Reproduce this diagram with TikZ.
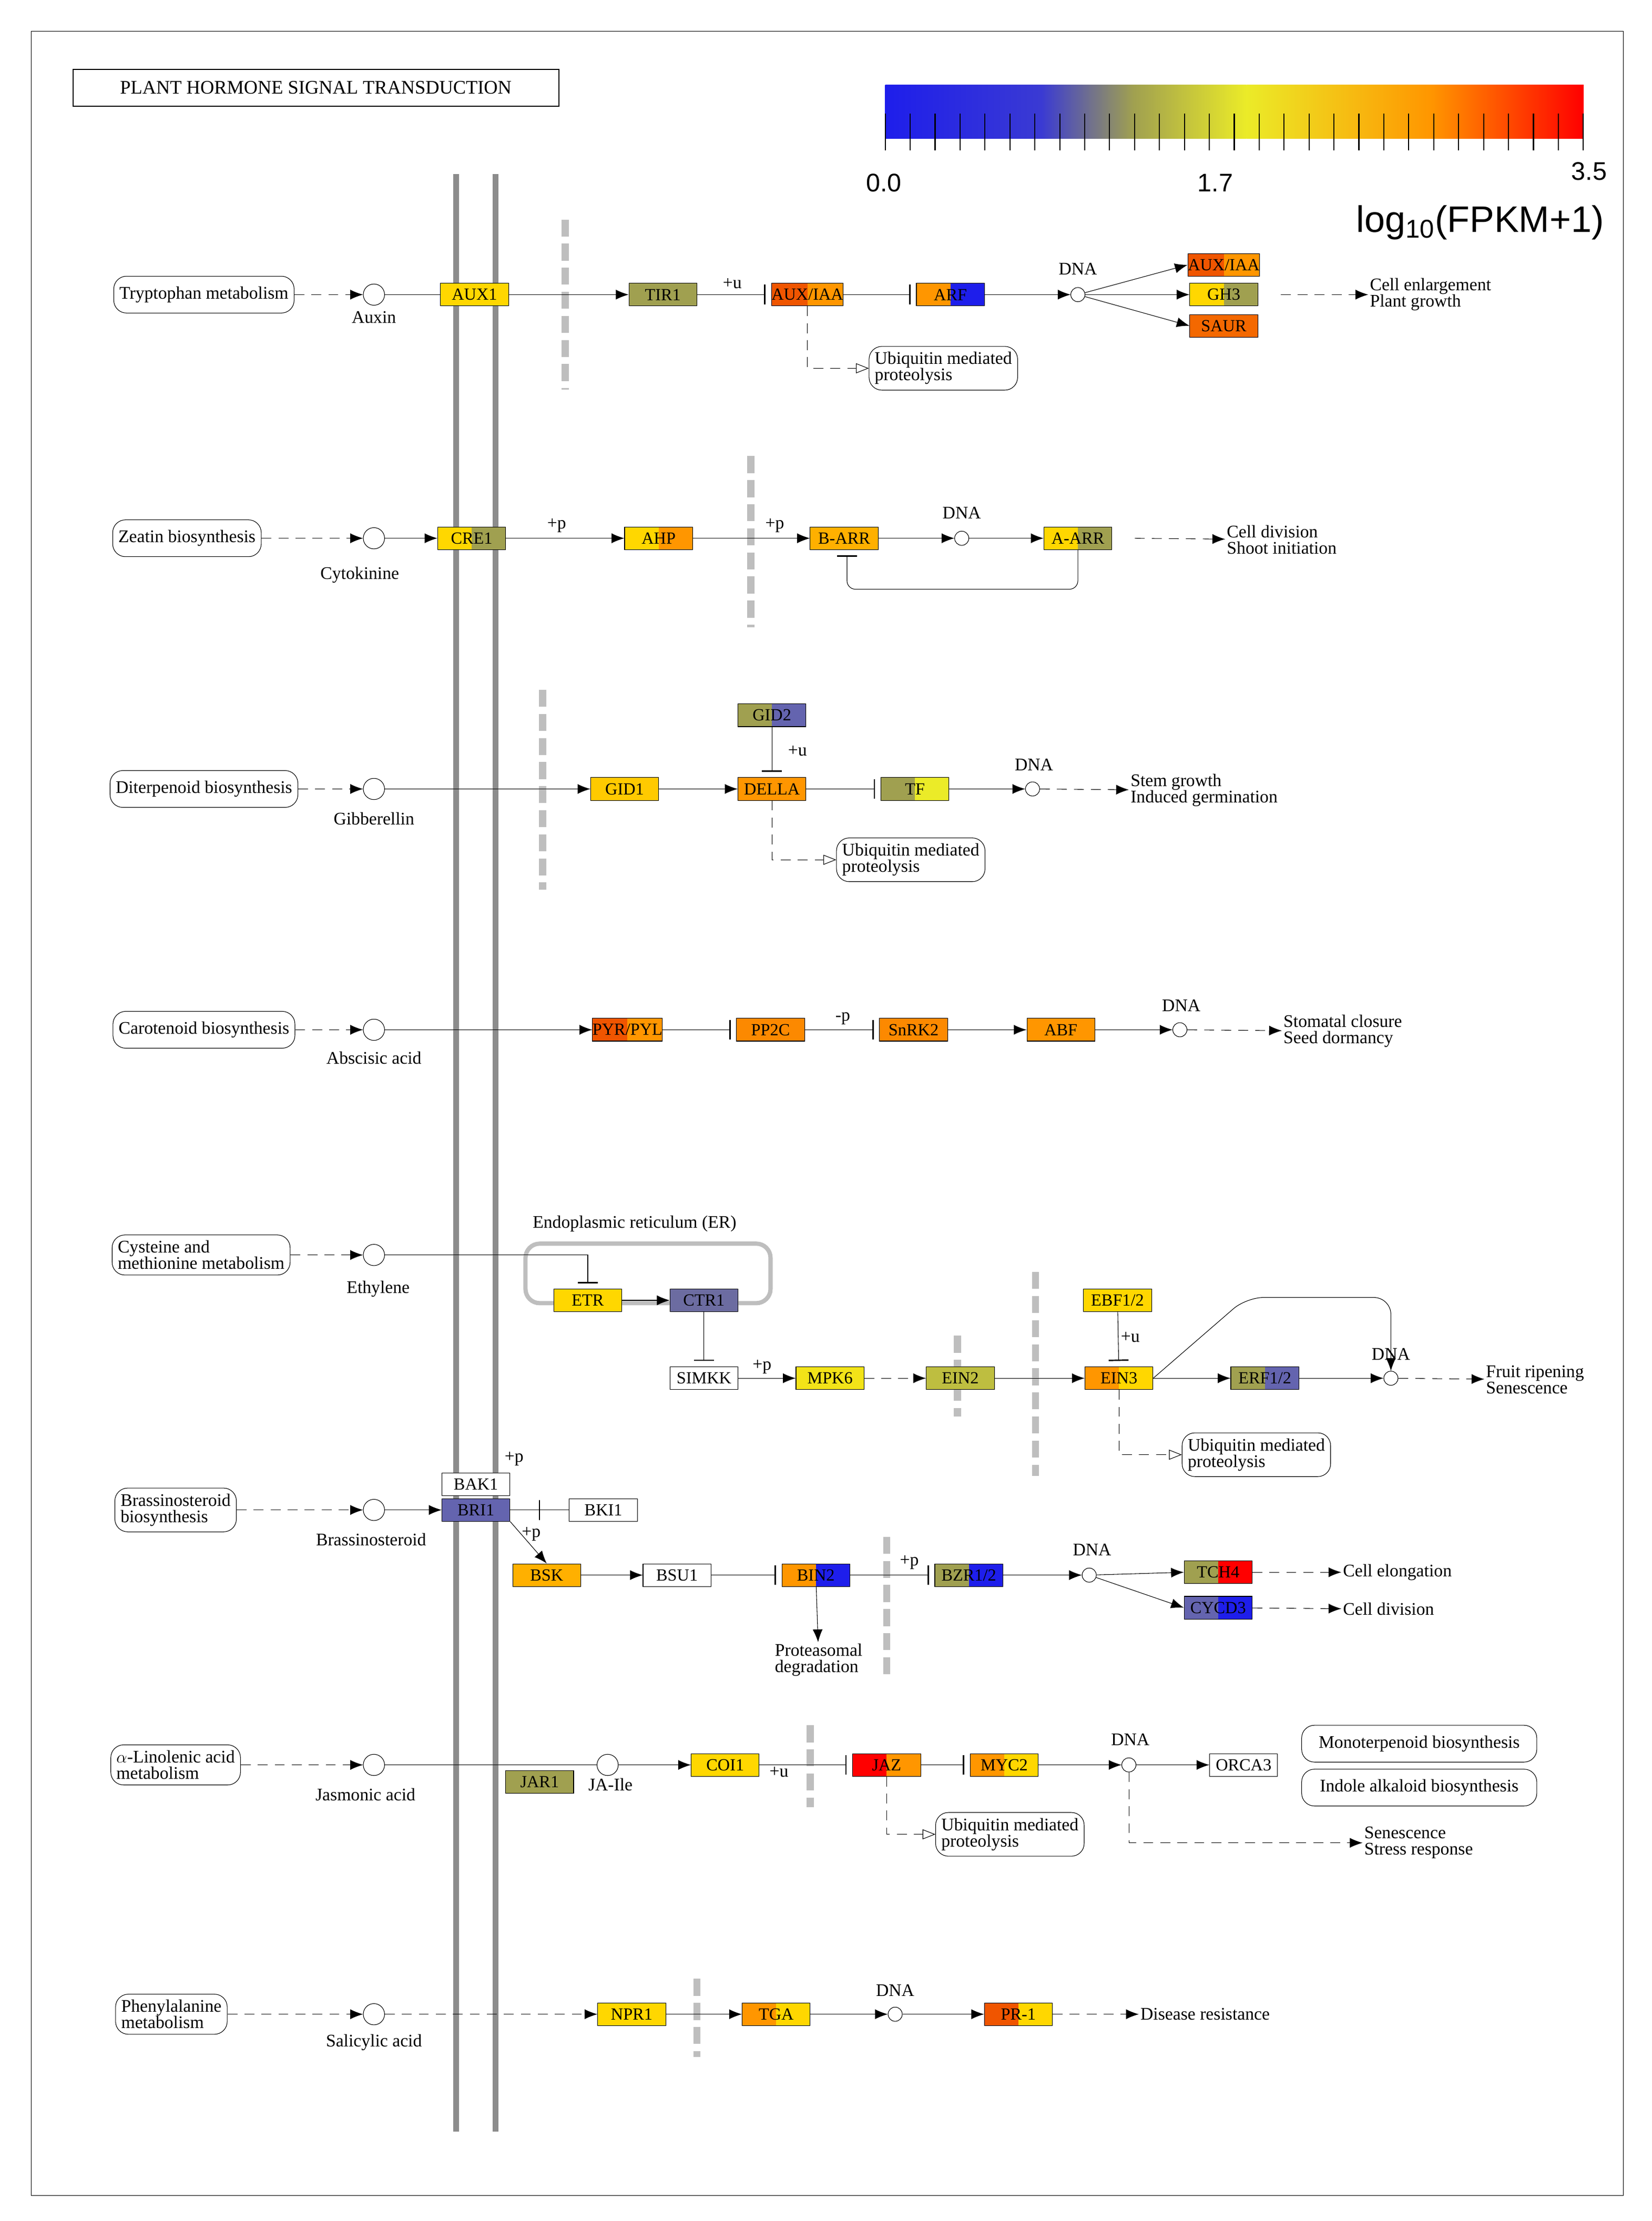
\documentclass[tikz,border=0pt]{standalone}
\usepackage{fontspec}
\setmainfont{Liberation Serif}
\newfontfamily\sans{Liberation Sans}
\usetikzlibrary{arrows.meta}
\definecolor{gy}{RGB}{255,215,0}
\definecolor{yl}{RGB}{235,235,40}
\definecolor{og}{RGB}{255,150,0}
\definecolor{ro}{RGB}{240,85,0}
\definecolor{ol}{RGB}{160,160,80}
\definecolor{bg}{RGB}{100,100,175}
\definecolor{bl}{RGB}{30,30,235}
\definecolor{mem}{RGB}{140,140,140}
\definecolor{gd}{RGB}{190,190,190}
\begin{document}
\begin{tikzpicture}[x=1pt,y=-1pt,
 g/.style={draw,rectangle,minimum width=48pt,minimum height=16pt,inner sep=0pt,font=\fontsize{12}{12}\selectfont},
 two/.style 2 args={path picture={\fill[#1] (path picture bounding box.south west) rectangle (path picture bounding box.north);\fill[#2] (path picture bounding box.south) rectangle (path picture bounding box.north east);}},
 pw/.style={draw,rounded corners=9pt,minimum height=26pt,inner sep=4pt,align=left,font=\fontsize{12.5}{11.5}\selectfont},
 c/.style={draw,circle,minimum size=15pt,inner sep=0pt},
 t/.style={font=\fontsize{12.5}{11.5}\selectfont,align=left,inner sep=1pt},
 a/.style={-{Latex[length=9pt,width=7pt]}},
 da/.style={dash pattern=on 7pt off 5pt,-{Latex[length=9pt,width=7pt]}},
 oa/.style={dash pattern=on 7pt off 5pt,-{Triangle[open,length=9pt,width=7pt]}},
 inh/.style={-{Bar[width=14pt,line width=1pt]},shorten >=4pt},
 gdash/.style={gd,line width=5pt,dash pattern=on 12pt off 5pt},
]
\useasboundingbox (0,0) rectangle (1166,1568);
\fill[white] (0,0) rectangle (1166,1568);
\draw (22,22) rectangle (1146,1550);
\node[draw,thick,minimum width=343pt,minimum height=26pt,font=\fontsize{13.5}{13}\selectfont] (title) at (223,62) {PLANT HORMONE SIGNAL TRANSDUCTION};
% color bar
\shade[left color=bl,right color=bl!60!bg] (625,60) rectangle (735,98);
\shade[left color=bl!60!bg,right color=ol] (735,60) rectangle (800,98);
\shade[left color=ol,right color=yl] (800,60) rectangle (880,98);
\shade[left color=yl,right color=og] (880,60) rectangle (1010,98);
\shade[left color=og,right color=red] (1010,60) rectangle (1118,98);
\foreach \i in {0,...,28}{\draw[thick] (625+\i*17.6,80) -- (625+\i*17.6,106);}
\node[font=\sans\fontsize{18}{18}\selectfont] (l0) at (624,129) {0.0};
\node[font=\sans\fontsize{18}{18}\selectfont] (l1) at (858,129) {1.7};
\node[font=\sans\fontsize{18}{18}\selectfont] (l2) at (1122,121) {3.5};
\node[font=\sans\fontsize{26}{26}\selectfont] (lg) at (1045,157) {log\textsubscript{10}(FPKM+1)};
% membrane
\draw[mem,line width=4pt] (322,123) -- (322,1505);
\draw[mem,line width=4pt] (350,123) -- (350,1505);
% gray dashes
\draw[gdash] (399,155) -- (399,275);
\draw[gdash] (530,322) -- (530,443);
\draw[gdash] (383,487) -- (383,628);
\draw[gdash] (676,943) -- (676,1000);
\draw[gdash] (731,898) -- (731,1042);
\draw[gdash] (626,1085) -- (626,1185);
\draw[gdash] (572,1218) -- (572,1276);
\draw[gdash] (492,1397) -- (492,1452);

% Row 1
\node[pw] (trp) at (144,208) {Tryptophan metabolism};
\node[c] (auxin) at (264,208) {};
\node[t] (auxinl) at (264,224) {Auxin};
\node[g,fill=gy] (aux1) at (335,208) {AUX1};
\node[g,fill=ol] (tir1) at (468,208) {TIR1};
\node[g,two={ro}{og}] (auxiaa) at (570,208) {AUX/IAA};
\node[g,two={og}{bl}] (arf) at (671,208) {ARF};
\node[c,minimum size=10pt] (dna1) at (761,208) {};
\node[t] (dna1l) at (761,190) {DNA};
\node[g,two={ro}{og}] (auxiaa2) at (864,187) {AUX/IAA};
\node[g,two={gy}{ol}] (gh3) at (864,208) {GH3};
\node[g,fill=ro!70!og] (saur) at (864,230) {SAUR};
\node[t,anchor=west] (ce) at (966,208) {Cell enlargement\\Plant growth};
\node[pw] (ub1) at (666,260) {Ubiquitin mediated\\proteolysis};
\node[t] (u1) at (517,200) {+u};
\draw[da] (trp) -- (auxin);
\draw (auxin) -- (aux1);
\draw[a] (aux1) -- (tir1);
\draw[inh] (tir1) -- (auxiaa);
\draw[inh] (auxiaa) -- (arf);
\draw[a] (arf) -- (dna1);
\draw[a] (dna1) -- (auxiaa2.west);
\draw[a] (dna1) -- (gh3);
\draw[a] (dna1) -- (saur.west);
\draw[da] (gh3.east)++(16,0) -- (ce);
\draw[oa] (auxiaa.south) |- (ub1.west);

% Row 2
\node[pw] (zea) at (132,380) {Zeatin biosynthesis};
\node[c] (cyt) at (264,380) {};
\node[t] (cytl) at (254,406) {Cytokinine};
\node[g,two={gy}{ol}] (cre1) at (333,380) {CRE1};
\node[g,two={gy}{og}] (ahp) at (465,380) {AHP};
\node[g,fill=og!60!gy] (barr) at (596,380) {B-ARR};
\node[c,minimum size=10pt] (dna2) at (679,380) {};
\node[t] (dna2l) at (679,362) {DNA};
\node[g,two={gy}{ol}] (aarr) at (761,380) {A-ARR};
\node[t,anchor=west] (cd) at (865,381) {Cell division\\Shoot initiation};
\node[t] (p1) at (393,371) {+p};
\node[t] (p2) at (547,371) {+p};
\draw[da] (zea) -- (cyt);
\draw[a] (cyt) -- (cre1);
\draw[a] (cre1) -- (ahp);
\draw[a] (ahp) -- (barr);
\draw[a] (barr) -- (dna2);
\draw[a] (dna2) -- (aarr);
\draw[rounded corners=6pt,-{Bar[width=14pt,line width=1pt]}] (aarr.south) |- (598,416) -- (598,392);
\draw[da] (aarr.east)++(16,0) -- (cd);

% Row 3
\node[pw] (dit) at (144,557) {Diterpenoid biosynthesis};
\node[c] (gib) at (264,557) {};
\node[t] (gibl) at (264,578) {Gibberellin};
\node[g,fill=gy!80!og] (gid1) at (441,557) {GID1};
\node[g,fill=og] (della) at (545,557) {DELLA};
\node[g,two={ol}{bg}] (gid2) at (545,505) {GID2};
\node[g,two={ol}{yl}] (tf) at (646,557) {TF};
\node[c,minimum size=10pt] (dna3) at (729,557) {};
\node[t] (dna3l) at (730,540) {DNA};
\node[t,anchor=west] (sg) at (797,558) {Stem growth\\Induced germination};
\node[pw] (ub3) at (643,607) {Ubiquitin mediated\\proteolysis};
\node[t] (u3) at (563,530) {+u};
\draw[da] (dit) -- (gib);
\draw[a] (gib) -- (gid1);
\draw[a] (gid1) -- (della);
\draw[inh] (gid2) -- (della);
\draw[inh] (della) -- (tf);
\draw[a] (tf) -- (dna3);
\draw[da] (dna3) -- (sg);
\draw[oa] (della.south) |- (ub3.west);

% Row 4
\node[pw] (car) at (144,727) {Carotenoid biosynthesis};
\node[c] (aba) at (264,727) {};
\node[t] (abal) at (264,747) {Abscisic acid};
\node[g,two={ro}{og}] (pyr) at (443,727) {PYR/PYL};
\node[g,fill=og!80!ro] (pp2c) at (544,727) {PP2C};
\node[g,fill=og!80!ro] (snrk) at (645,727) {SnRK2};
\node[g,fill=og] (abf) at (749,727) {ABF};
\node[c,minimum size=10pt] (dna4) at (833,727) {};
\node[t] (dna4l) at (834,710) {DNA};
\node[t,anchor=west] (sc) at (905,728) {Stomatal closure\\Seed dormancy};
\node[t] (mp) at (595,719) {-p};
\draw[da] (car) -- (aba);
\draw[a] (aba) -- (pyr);
\draw[inh] (pyr) -- (pp2c);
\draw[inh] (pp2c) -- (snrk);
\draw[a] (snrk) -- (abf);
\draw[a] (abf) -- (dna4);
\draw[da] (dna4) -- (sc);

% Row 5
\node[pw] (cys) at (142,886) {Cysteine and\\methionine metabolism};
\node[c] (eth) at (264,886) {};
\node[t] (ethl) at (267,910) {Ethylene};
\draw[gd,line width=3pt,rounded corners=10pt] (371,878) rectangle (544,920);
\node[t] (erl) at (448,864) {Endoplasmic reticulum (ER)};
\node[g,fill=gy] (etr) at (415,918) {ETR};
\node[g,fill=bg!70!gray] (ctr1) at (497,918) {CTR1};
\node[g,fill=white] (simkk) at (497,973) {SIMKK};
\node[g,fill=yl!60!gy] (mpk6) at (586,973) {MPK6};
\node[g,fill=ol!60!yl] (ein2) at (678,973) {EIN2};
\node[g,fill=gy] (ebf) at (789,918) {EBF1/2};
\node[g,two={og}{gy}] (ein3) at (790,973) {EIN3};
\node[g,two={ol}{bg}] (erf) at (893,973) {ERF1/2};
\node[c,minimum size=10pt] (dna5) at (982,973) {};
\node[t] (dna5l) at (982,956) {DNA};
\node[t,anchor=west] (fr) at (1048,974) {Fruit ripening\\Senescence};
\node[pw] (ub5) at (887,1027) {Ubiquitin mediated\\proteolysis};
\node[t] (p5) at (538,965) {+p};
\node[t] (u5) at (798,944) {+u};
\draw[da] (cys) -- (eth);
\draw[-{Bar[width=14pt,line width=1pt]}] (eth) -| (415,906);
\draw[a] (etr) -- (ctr1);
\draw[inh] (ctr1) -- (simkk);
\draw[a] (simkk) -- (mpk6);
\draw[da] (mpk6) -- (ein2);
\draw[a] (ein2) -- (ein3);
\draw[inh] (ebf) -- (ein3);
\draw[a] (ein3) -- (erf);
\draw[a] (erf) -- (dna5);
\draw[a,rounded corners=12pt] (ein3.east) -- (880,916) -- (982,916) -- (dna5.north);
\draw[da] (dna5) -- (fr);
\draw[oa] (ein3.south) |- (ub5.west);

% Row 6
\node[pw] (bra) at (124,1066) {Brassinosteroid\\biosynthesis};
\node[c] (br) at (264,1066) {};
\node[t] (brl) at (262,1087) {Brassinosteroid};
\node[g,fill=white] (bak1) at (336,1048) {BAK1};
\node[g,fill=bg] (bri1) at (336,1066) {BRI1};
\node[g,fill=white] (bki1) at (426,1066) {BKI1};
\node[g,fill=og!60!gy] (bsk) at (386,1112) {BSK};
\node[g,fill=white] (bsu1) at (478,1112) {BSU1};
\node[g,two={og}{bl}] (bin2) at (576,1112) {BIN2};
\node[t] (prot) at (578,1172) {Proteasomal\\degradation};
\node[g,two={ol}{bl}] (bzr) at (684,1112) {BZR1/2};
\node[c,minimum size=10pt] (dna6) at (769,1112) {};
\node[t] (dna6l) at (771,1094) {DNA};
\node[g,two={ol}{red}] (tch4) at (860,1110) {TCH4};
\node[g,two={bg}{bl}] (cycd3) at (860,1135) {CYCD3};
\node[t,anchor=west] (cel) at (947,1110) {Cell elongation};
\node[t,anchor=west] (cdv) at (947,1136) {Cell division};
\node[t] (p6a) at (363,1030) {+p};
\node[t] (p6b) at (375,1083) {+p};
\node[t] (p6c) at (642,1103) {+p};
\draw[da] (bra) -- (br);
\draw[a] (br) -- (bri1);
\draw (bki1) -- (bri1);
\draw[thick] (381,1059) -- (381,1073);
\draw[a] (bri1.south east) -- (bsk.north);
\draw[a] (bsk) -- (bsu1);
\draw[inh] (bsu1) -- (bin2);
\draw[a] (bin2) -- (prot);
\draw[inh] (bin2) -- (bzr);
\draw[a] (bzr) -- (dna6);
\draw[a] (dna6) -- (tch4.west);
\draw[a] (dna6) -- (cycd3.west);
\draw[da] (tch4) -- (cel);
\draw[da] (cycd3) -- (cdv);

% Row 7
\node[pw] (lin) at (124,1246) {$\alpha$-Linolenic acid\\metabolism};
\node[c] (ja) at (264,1246) {};
\node[t] (jal) at (258,1267) {Jasmonic acid};
\node[g,fill=ol] (jar1) at (381,1258) {JAR1};
\node[c] (jaile) at (429,1246) {};
\node[t] (jailel) at (431,1260) {JA-Ile};
\node[g,fill=gy] (coi1) at (512,1246) {COI1};
\node[g,two={red}{og}] (jaz) at (626,1246) {JAZ};
\node[g,two={og}{gy}] (myc2) at (709,1246) {MYC2};
\node[c,minimum size=10pt] (dna7) at (797,1246) {};
\node[t] (dna7l) at (798,1228) {DNA};
\node[g,fill=white] (orca3) at (878,1246) {ORCA3};
\node[pw,minimum width=166pt,align=center] (mono) at (1002,1231) {Monoterpenoid biosynthesis};
\node[pw,minimum width=166pt,align=center] (indo) at (1002,1262) {Indole alkaloid biosynthesis};
\node[t,anchor=west] (sen) at (962,1301) {Senescence\\Stress response};
\node[pw] (ub7) at (713,1295) {Ubiquitin mediated\\proteolysis};
\node[t] (u7) at (550,1251) {+u};
\draw[da] (lin) -- (ja);
\draw (ja) -- (jaile);
\draw[a] (jaile) -- (coi1);
\draw[inh] (coi1) -- (jaz);
\draw[inh] (jaz) -- (myc2);
\draw[a] (myc2) -- (dna7);
\draw[a] (dna7) -- (orca3);
\draw[da] (dna7) |- (sen);
\draw[oa] (jaz.south) |- (ub7.west);

% Row 8
\node[pw] (phe) at (121,1422) {Phenylalanine\\metabolism};
\node[c] (sa) at (264,1422) {};
\node[t] (sal) at (264,1442) {Salicylic acid};
\node[g,fill=gy] (npr1) at (446,1422) {NPR1};
\node[g,two={og}{gy}] (tga) at (548,1422) {TGA};
\node[c,minimum size=10pt] (dna8) at (632,1422) {};
\node[t] (dna8l) at (632,1405) {DNA};
\node[g,two={ro}{gy}] (pr1) at (719,1422) {PR-1};
\node[t,anchor=west] (dr) at (804,1422) {Disease resistance};
\draw[da] (phe) -- (sa);
\draw[da] (sa) -- (npr1);
\draw[a] (npr1) -- (tga);
\draw[a] (tga) -- (dna8);
\draw[a] (dna8) -- (pr1);
\draw[da] (pr1) -- (dr);
\end{tikzpicture}
\end{document}
